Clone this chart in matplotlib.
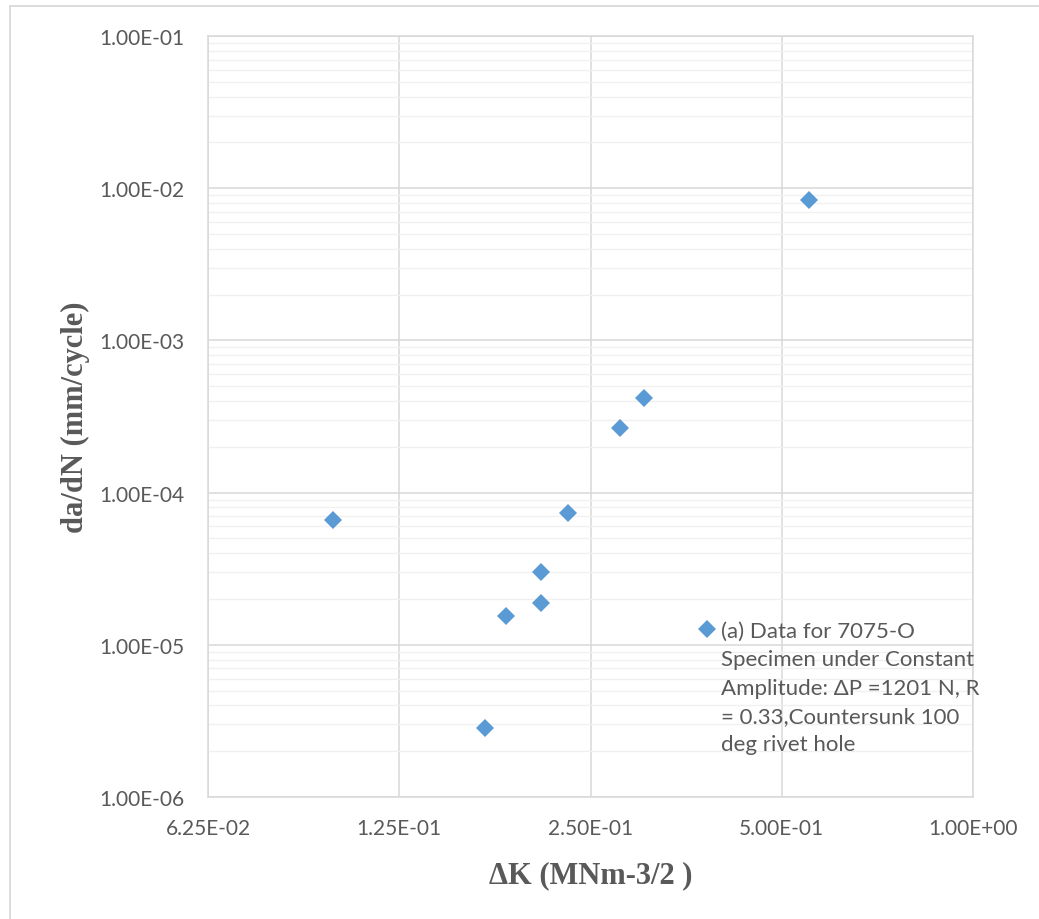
import matplotlib
matplotlib.use("Agg")
import matplotlib.pyplot as plt
from matplotlib.ticker import FixedLocator, FuncFormatter, NullFormatter
from matplotlib.patches import Rectangle

# Stress intensity factor range (MN m^-3/2) and crack growth rate (mm/cycle)
delta_k = [0.0983, 0.1704, 0.1841, 0.2088, 0.2088, 0.2307, 0.2782, 0.3035, 0.5519]
da_dn = [6.64e-5, 2.84e-6, 1.546e-5, 1.874e-5, 2.995e-5, 7.31e-5, 2.657e-4, 4.202e-4, 8.40e-3]

x_ticks = [0.0625, 0.125, 0.25, 0.5, 1.0]
y_ticks = [1e-6, 1e-5, 1e-4, 1e-3, 1e-2, 1e-1]

series_label = ("(a) Data for 7075-O\nSpecimen under Constant\n"
                "Amplitude: ΔP =1201 N, R\n= 0.33,Countersunk 100\ndeg rivet hole")
x_title = "ΔK (MNm-3/2 )"
y_title = "da/dN (mm/cycle)"

text_grey = "#595959"
major_grid = "#D9D9D9"
minor_grid = "#F0F0F0"
marker_blue = "#5B9BD5"

W, H = 1039, 920
fig = plt.figure(figsize=(W / 100, H / 100), dpi=100)
fig.patch.set_facecolor("white")

# chart-area outline (top and left edges visible)
fig.patches.append(Rectangle((10 / W, -0.5), 2.0, 1.5 - 7 / H, transform=fig.transFigure,
                             fill=False, edgecolor=major_grid, linewidth=1.3, clip_on=False))

ax = fig.add_axes([208 / W, 1 - 798 / H, (973 - 208) / W, (798 - 37) / H])
ax.set_xscale("log", base=2)
ax.set_yscale("log", base=10)
ax.set_xlim(x_ticks[0], x_ticks[-1])
ax.set_ylim(y_ticks[0], y_ticks[-1])

ax.xaxis.set_major_locator(FixedLocator(x_ticks))
ax.xaxis.set_minor_locator(FixedLocator([]))
ax.yaxis.set_major_locator(FixedLocator(y_ticks))
minor_y = [m * 10.0 ** e for e in range(-6, -1) for m in range(2, 10)]
ax.yaxis.set_minor_locator(FixedLocator(minor_y))
ax.yaxis.set_minor_formatter(NullFormatter())
ax.xaxis.set_major_formatter(FuncFormatter(lambda v, p: f"{v:.2E}"))
ax.yaxis.set_major_formatter(FuncFormatter(lambda v, p: f"{v:.2E}"))

ax.grid(which="minor", axis="y", color=minor_grid, linewidth=1.0, zorder=0)
ax.grid(which="major", axis="both", color=major_grid, linewidth=1.1, zorder=0)
ax.set_axisbelow(True)
for s in ax.spines.values():
    s.set_color(major_grid)
    s.set_linewidth(1.1)

ax.tick_params(which="both", length=0)
ax.tick_params(axis="y", pad=17, labelsize=15, labelcolor=text_grey)
ax.tick_params(axis="x", pad=15, labelsize=15, labelcolor=text_grey)
for lab in ax.get_xticklabels() + ax.get_yticklabels():
    lab.set_fontfamily("Lato")

ax.plot(delta_k, da_dn, linestyle="none", marker="D", markersize=9.2,
        markerfacecolor=marker_blue, markeredgewidth=0, label=series_label, zorder=3)

ax.set_xlabel(x_title, fontfamily="Liberation Serif", fontweight="bold",
              fontsize=22, color=text_grey, labelpad=16)
ax.set_ylabel(y_title, fontfamily="Liberation Serif", fontweight="bold",
              fontsize=22, color=text_grey, labelpad=7)

leg = ax.legend(loc="upper left", bbox_to_anchor=(699 / W, 1 - 622 / H),
                bbox_transform=fig.transFigure, frameon=False,
                prop={"family": "Lato", "size": 16}, labelcolor=text_grey,
                handlelength=0.7, handletextpad=0.3, borderpad=0, borderaxespad=0,
                markerscale=1.0)
for t in leg.get_texts():
    t.set_linespacing(1.52)
try:
    item = leg._legend_handle_box.get_children()[0].get_children()[0]
    item.align = "top"
except Exception:
    pass

fig.savefig("out.png", dpi=100, facecolor="white")
